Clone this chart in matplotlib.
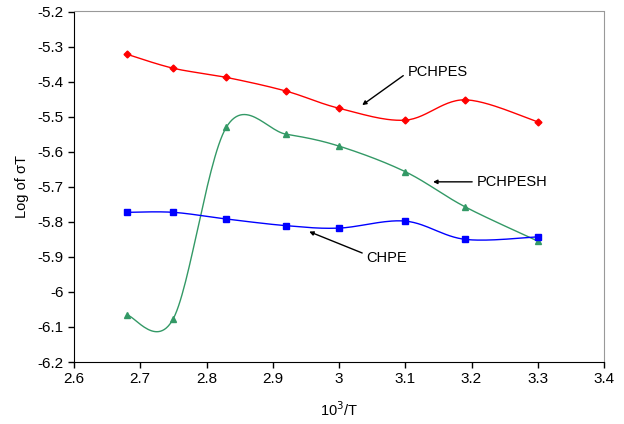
import numpy as np
import matplotlib.pyplot as plt

plt.rcParams['font.family'] = ['Liberation Sans', 'DejaVu Sans']

inv_t = [2.68, 2.75, 2.83, 2.92, 3.0, 3.1, 3.19, 3.3]
pchpes = [-5.322, -5.362, -5.388, -5.427, -5.476, -5.510, -5.452, -5.515]
pchpesh = [-6.066, -6.076, -5.530, -5.550, -5.584, -5.657, -5.757, -5.855]
chpe = [-5.773, -5.773, -5.792, -5.811, -5.818, -5.798, -5.850, -5.843]


def smooth(x, y, n=30):
    """
    Excel style smoothed line: bezier segments with catmull-rom control points
    """
    x = np.asarray(x, float)
    y = np.asarray(y, float)
    px = np.concatenate([[x[0]], x, [x[-1]]])
    py = np.concatenate([[y[0]], y, [y[-1]]])
    xs, ys = [], []
    t = np.linspace(0, 1, n)
    for i in range(1, len(px) - 2):
        p0 = np.array([px[i], py[i]])
        p3 = np.array([px[i + 1], py[i + 1]])
        p1 = p0 + (np.array([px[i + 1], py[i + 1]]) - np.array([px[i - 1], py[i - 1]])) / 6
        p2 = p3 - (np.array([px[i + 2], py[i + 2]]) - np.array([px[i], py[i]])) / 6
        b = ((1 - t) ** 3)[:, None] * p0 + (3 * (1 - t) ** 2 * t)[:, None] * p1 \
            + (3 * (1 - t) * t ** 2)[:, None] * p2 + (t ** 3)[:, None] * p3
        xs.extend(b[:, 0])
        ys.extend(b[:, 1])
    return xs, ys


fig = plt.figure(figsize=(6.24, 4.24), dpi=100)
ax = fig.add_axes([74 / 624, 1 - 362 / 424, 530 / 624, 350.5 / 424])

series = [
    (pchpes, "#FF0000", "D", 3.5),
    (pchpesh, "#339966", "^", 4.5),
    (chpe, "#0000FF", "s", 4),
]
for values, color, marker, size in series:
    sx, sy = smooth(inv_t, values)
    ax.plot(sx, sy, color=color, lw=1)
    ax.plot(inv_t, values, marker, color=color, ms=size, ls="none")

ax.set_xlim(2.6, 3.4)
ax.set_ylim(-6.2, -5.2)
ax.set_xticks(np.arange(2.6, 3.41, 0.1))
ax.set_xticklabels(["2.6", "2.7", "2.8", "2.9", "3", "3.1", "3.2", "3.3", "3.4"])
ax.set_yticks(np.arange(-6.2, -5.19, 0.1))
ax.set_yticklabels(["-6.2", "-6.1", "-6", "-5.9", "-5.8", "-5.7", "-5.6",
                    "-5.5", "-5.4", "-5.3", "-5.2"])
ax.tick_params(direction="out", length=4, labelsize=11, width=1)
ax.spines["top"].set_color("#999999")
ax.spines["right"].set_color("#999999")

ax.set_xlabel("10$^3$/T", fontsize=10.5, labelpad=10)
ax.set_ylabel("Log of \u03c3T", fontsize=10.5, labelpad=6)

arrow = dict(arrowstyle="-|>", color="black", lw=1, mutation_scale=6,
             shrinkA=0, shrinkB=0)
ax.annotate("", xy=(3.035, -5.467), xytext=(3.097, -5.383), arrowprops=arrow)
ax.text(3.104, -5.373, "PCHPES", fontsize=10.5, va="center", ha="left")
ax.annotate("", xy=(3.142, -5.686), xytext=(3.201, -5.686), arrowprops=arrow)
ax.text(3.208, -5.686, "PCHPESH", fontsize=10.5, va="center", ha="left")
ax.annotate("", xy=(2.955, -5.828), xytext=(3.035, -5.889), arrowprops=arrow)
ax.text(3.041, -5.902, "CHPE", fontsize=10.5, va="center", ha="left")

plt.savefig("out.png", dpi=100)
